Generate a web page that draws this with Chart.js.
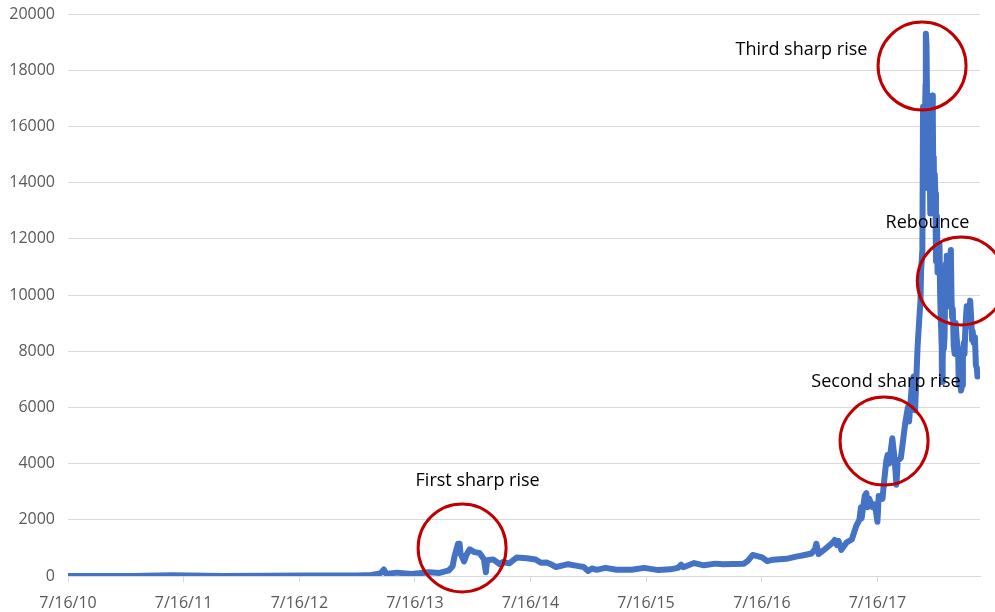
<!DOCTYPE html>
<html>
<head>
<meta charset="utf-8">
<script src="https://cdn.jsdelivr.net/npm/chart.js@4/dist/chart.umd.min.js"></script>
<style>
  html, body { margin: 0; padding: 0; background: #fff; }
</style>
</head>
<body>
<canvas id="price" width="995" height="612"></canvas>
<script>
// closing price samples (USD)
const dates = [
  '2010-07-16', '2010-11-06', '2011-02-09', '2011-06-08', '2011-11-18', '2012-08-17',
  '2013-01-15', '2013-03-01', '2013-03-28', '2013-04-09', '2013-04-16', '2013-05-20',
  '2013-07-05', '2013-08-30', '2013-10-02', '2013-10-31', '2013-11-12', '2013-11-18',
  '2013-11-29', '2013-12-04', '2013-12-07', '2013-12-18', '2013-12-26', '2014-01-05',
  '2014-01-20', '2014-02-05', '2014-02-19', '2014-02-25', '2014-03-01', '2014-03-20',
  '2014-04-10', '2014-04-20', '2014-05-10', '2014-06-03', '2014-07-05', '2014-08-01',
  '2014-08-18', '2014-09-05', '2014-09-22', '2014-10-05', '2014-11-12', '2014-12-15',
  '2014-12-31', '2015-01-14', '2015-01-26', '2015-02-10', '2015-03-10', '2015-04-14',
  '2015-06-01', '2015-07-10', '2015-08-24', '2015-09-30', '2015-10-25', '2015-11-04',
  '2015-11-11', '2015-12-15', '2016-01-15', '2016-02-20', '2016-03-15', '2016-05-20',
  '2016-06-01', '2016-06-17', '2016-07-16', '2016-08-02', '2016-08-20', '2016-10-01',
  '2016-11-05', '2016-11-20', '2016-12-20', '2016-12-31', '2017-01-04', '2017-01-11',
  '2017-01-25', '2017-02-23', '2017-03-03', '2017-03-10', '2017-03-15', '2017-03-24',
  '2017-04-10', '2017-04-26', '2017-05-10', '2017-05-20', '2017-05-25', '2017-05-27',
  '2017-06-06', '2017-06-11', '2017-06-15', '2017-06-20', '2017-07-01', '2017-07-08',
  '2017-07-16', '2017-07-20', '2017-08-01', '2017-08-05', '2017-08-13', '2017-08-17',
  '2017-08-22', '2017-09-01', '2017-09-08', '2017-09-14', '2017-09-18', '2017-09-28',
  '2017-10-12', '2017-10-20', '2017-10-24', '2017-11-01', '2017-11-07', '2017-11-12',
  '2017-11-20', '2017-11-26', '2017-11-29', '2017-12-01', '2017-12-05', '2017-12-07',
  '2017-12-09', '2017-12-11', '2017-12-13', '2017-12-15', '2017-12-16', '2017-12-18',
  '2017-12-20', '2017-12-22', '2017-12-23', '2017-12-25', '2017-12-26', '2017-12-28',
  '2017-12-30', '2017-12-31', '2018-01-01', '2018-01-03', '2018-01-05', '2018-01-07',
  '2018-01-08', '2018-01-10', '2018-01-11', '2018-01-13', '2018-01-15', '2018-01-17',
  '2018-01-19', '2018-01-20', '2018-01-22', '2018-01-24', '2018-01-26', '2018-01-28',
  '2018-01-30', '2018-02-01', '2018-02-02', '2018-02-04', '2018-02-05', '2018-02-07',
  '2018-02-09', '2018-02-11', '2018-02-13', '2018-02-15', '2018-02-17', '2018-02-18',
  '2018-02-20', '2018-02-22', '2018-02-24', '2018-02-27', '2018-03-01', '2018-03-05',
  '2018-03-07', '2018-03-09', '2018-03-11', '2018-03-14', '2018-03-17', '2018-03-19',
  '2018-03-20', '2018-03-23', '2018-03-26', '2018-03-28', '2018-03-30', '2018-04-01',
  '2018-04-03', '2018-04-06', '2018-04-10', '2018-04-12', '2018-04-15', '2018-04-17',
  '2018-04-20', '2018-04-24', '2018-04-25', '2018-04-28', '2018-05-01', '2018-05-05',
  '2018-05-08', '2018-05-11', '2018-05-13', '2018-05-16', '2018-05-20', '2018-05-23',
  '2018-05-26', '2018-05-28'
];
const prices = [
  0.05, 0.3, 1, 30, 2, 15,
  14, 34, 90, 230, 70, 120,
  70, 130, 110, 200, 350, 700,
  1150, 1150, 800, 520, 760, 950,
  850, 820, 600, 135, 560, 590,
  420, 500, 450, 660, 630, 590,
  470, 480, 400, 320, 420, 350,
  320, 180, 270, 220, 290, 220,
  225, 290, 210, 236, 290, 400,
  310, 460, 380, 440, 415, 440,
  530, 750, 665, 530, 580, 610,
  700, 730, 800, 960, 1150, 780,
  900, 1170, 1280, 1100, 1250, 930,
  1200, 1300, 1780, 2000, 2450, 2050,
  2860, 2950, 2450, 2750, 2450, 2550,
  1930, 2850, 2750, 3250, 4100, 4300,
  4000, 4900, 4200, 3250, 4100, 4200,
  5450, 6000, 5500, 6700, 7100, 5900,
  8200, 9300, 9800, 10900, 11600, 16700,
  14800, 16700, 16300, 17500, 19300, 18900,
  16500, 13800, 14700, 13900, 16000, 14600,
  12900, 14200, 13400, 15100, 17100, 16200,
  14900, 14800, 13400, 14300, 13600, 11200,
  11500, 12800, 10800, 11300, 11100, 11800,
  10100, 9100, 8900, 8200, 6900, 7600,
  8700, 8100, 8500, 10100, 11100, 10400,
  11400, 9900, 9600, 10600, 10900, 11600,
  9900, 9200, 9500, 8200, 7900, 8600,
  9000, 8500, 8100, 7900, 6800, 6800,
  7400, 6600, 6800, 7900, 8300, 7900,
  8900, 9600, 8900, 9300, 9100, 9800,
  9200, 8400, 8700, 8300, 8500, 7500,
  7400, 7100
];

const yearTicks = [
  '2010-07-16', '2011-07-16', '2012-07-16', '2013-07-16',
  '2014-07-16', '2015-07-16', '2016-07-16', '2017-07-16'
];
const axisStart = '2010-07-16';
const axisEnd = '2018-06-05';

const callouts = [
  { text: 'First sharp rise',  label: ['2014-01-30', 3380],  ring: ['2013-12-12', 1000] },
  { text: 'Second sharp rise', label: ['2017-08-12', 6900],  ring: ['2017-08-06', 4800] },
  { text: 'Third sharp rise',  label: ['2016-11-18', 18720], ring: ['2017-12-04', 18150] },
  { text: 'Rebounce',          label: ['2017-12-21', 12560], ring: ['2018-04-07', 10500] }
];

const DAY = 86400000;
const origin = Date.parse(axisStart + 'T00:00:00Z');

function dayIndex(s) {
  return (Date.parse(s + 'T00:00:00Z') - origin) / DAY;
}

function shortDate(day) {
  const d = new Date(origin + Math.round(day) * DAY);
  return (d.getUTCMonth() + 1) + '/' + d.getUTCDate() + '/' + String(d.getUTCFullYear()).slice(2);
}

const points = dates.map((d, i) => ({ x: dayIndex(d), y: prices[i] }));

const tickFont = { family: '"Open Sans", sans-serif', size: 16 };

// red rings and their captions, placed in data space
const calloutPlugin = {
  id: 'callouts',
  afterDatasetsDraw(chart) {
    const { ctx, scales } = chart;
    ctx.save();
    callouts.forEach(c => {
      const rx = scales.x.getPixelForValue(dayIndex(c.ring[0]));
      const ry = scales.y.getPixelForValue(c.ring[1]);
      ctx.beginPath();
      ctx.arc(rx, ry, 44, 0, Math.PI * 2);
      ctx.strokeStyle = '#C00000';
      ctx.lineWidth = 3;
      ctx.stroke();

      const tx = scales.x.getPixelForValue(dayIndex(c.label[0]));
      const ty = scales.y.getPixelForValue(c.label[1]);
      ctx.fillStyle = '#000000';
      ctx.font = '18px "Open Sans", sans-serif';
      ctx.textAlign = 'center';
      ctx.textBaseline = 'middle';
      ctx.fillText(c.text, tx, ty);
    });
    ctx.restore();
  }
};

const ctx = document.getElementById('price').getContext('2d');
new Chart(ctx, {
  type: 'line',
  data: {
    datasets: [{
      data: points,
      borderColor: '#4472C4',
      borderWidth: 6,
      borderJoinStyle: 'round',
      borderCapStyle: 'round',
      pointRadius: 0,
      tension: 0,
      fill: false
    }]
  },
  options: {
    responsive: false,
    animation: false,
    layout: { padding: { top: 14, right: 15, left: 0, bottom: 0 } },
    plugins: {
      legend: { display: false },
      tooltip: { enabled: false }
    },
    scales: {
      x: {
        type: 'linear',
        min: 0,
        max: dayIndex(axisEnd),
        afterBuildTicks: scale => {
          scale.ticks = yearTicks.map(d => ({ value: dayIndex(d) }));
        },
        afterFit: scale => {
          scale.height = 36;
          scale.paddingLeft = 0;
          scale.paddingRight = 0;
        },
        grid: {
          drawOnChartArea: false,
          drawTicks: true,
          tickLength: 6,
          color: '#D9D9D9'
        },
        border: { display: true, color: '#D9D9D9', width: 1 },
        ticks: {
          autoSkip: false,
          maxRotation: 0,
          padding: 12,
          color: '#595959',
          font: tickFont,
          callback: v => shortDate(v)
        }
      },
      y: {
        min: 0,
        max: 20000,
        // keep the plot area fixed regardless of label overhang
        afterFit: scale => {
          scale.width = 68;
          scale.paddingTop = 0;
          scale.paddingBottom = 0;
        },
        grid: { color: '#D9D9D9', drawTicks: false },
        border: { display: false },
        ticks: {
          stepSize: 2000,
          padding: 13,
          color: '#595959',
          font: tickFont,
          callback: v => String(v)
        }
      }
    }
  },
  plugins: [calloutPlugin]
});
</script>
</body>
</html>
